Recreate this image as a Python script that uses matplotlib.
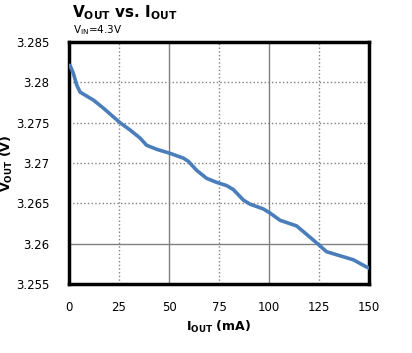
import numpy as np
import matplotlib
matplotlib.use("Agg")
from matplotlib import pyplot as plt

plt.rcParams['font.family'] = ['DejaVu Sans']
plt.rcParams['mathtext.fontset'] = 'dejavusans'

# output current (mA) and output voltage (V)
i_out = [0, 0.5, 2.2, 3.8, 5.5, 8.8, 12.2, 17.2, 25.5, 30.5, 35.5, 38.8, 43.8,
         50.5, 57.2, 59.7, 63.8, 68.8, 73.8, 78.8, 82.2, 87.2, 90.5, 97.2,
         100.5, 105.5, 113.8, 120.5, 124.7, 128.8, 135.5, 142.2, 148.8, 150]
v_out = [3.2820, 3.2821, 3.2811, 3.2797, 3.2788, 3.2783, 3.2778, 3.2768,
         3.2750, 3.2741, 3.2731, 3.2722, 3.2717, 3.2712, 3.2706, 3.2702,
         3.2691, 3.2681, 3.2676, 3.2672, 3.2667, 3.2654, 3.2649, 3.2643,
         3.2638, 3.2629, 3.2622, 3.2608, 3.2599, 3.2590, 3.2585, 3.2580,
         3.2571, 3.2570]

x_ticks = [0, 25, 50, 75, 100, 125, 150]
y_ticks = [3.255, 3.26, 3.265, 3.27, 3.275, 3.28, 3.285]
y_labels = ["3.255", "3.26", "3.265", "3.27", "3.275", "3.28", "3.285"]

fig = plt.figure(figsize=(4.12, 3.53), dpi=100)
ax = fig.add_axes([0.1675, 0.1955, 0.7281, 0.6855])

ax.plot(i_out, v_out, color="#4a7ebb", lw=2.6, zorder=3)

ax.set_xlim(0, 150)
ax.set_ylim(3.255, 3.285)
ax.set_xticks(x_ticks)
ax.set_yticks(y_ticks)
ax.set_yticklabels(y_labels)
ax.tick_params(length=0, labelsize=8.5)
ax.tick_params(axis="y", pad=14)
ax.tick_params(axis="x", pad=12)

# gridlines: a few solid, the rest dotted
for xv in x_ticks[1:-1]:
    ls = "-" if xv in (50, 100) else ":"
    ax.axvline(xv, color="#808080", lw=1, ls=ls, zorder=1)
for yv in y_ticks[1:-1]:
    ls = "-" if yv == 3.26 else ":"
    ax.axhline(yv, color="#808080", lw=1, ls=ls, zorder=1)

for s in ax.spines.values():
    s.set_linewidth(2.5)
    s.set_color("black")

ax.set_xlabel(r"$\mathbf{I}_{\mathbf{OUT}}$" + " (mA)", fontsize=9,
              fontweight="bold", labelpad=4)
ax.set_ylabel(r"$\mathbf{V}_{\mathbf{OUT}}$" + " (V)", fontsize=9,
              fontweight="bold", labelpad=1)

fig.text(0.175, 0.952, r"$\mathbf{V}_{\mathbf{OUT}}$" + " vs. " + r"$\mathbf{I}_{\mathbf{OUT}}$",
         fontsize=11, fontweight="bold", ha="left", va="baseline")
fig.text(0.177, 0.905, r"V$_{\mathrm{IN}}$=4.3V", fontsize=7.5, ha="left", va="baseline")

fig.savefig("out.png", dpi=100)
